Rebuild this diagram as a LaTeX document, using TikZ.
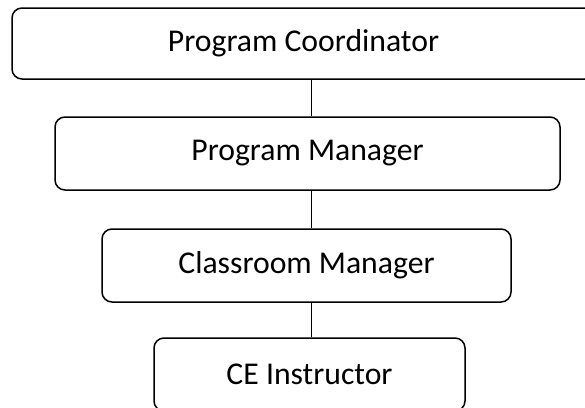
\documentclass[tikz,border=0pt]{standalone}
\usepackage{fontspec}
\setmainfont{Carlito}
\begin{document}
\begin{tikzpicture}[x=1pt,y=-1pt,
  boxn/.style={draw=black, line width=1.5pt, rounded corners=10pt, inner sep=0pt,
    font=\fontsize{31.7}{38}\selectfont, text=black},
  link/.style={draw=black, line width=1.5pt}]
\useasboundingbox[fill=white] (0,0) rectangle (585,407);
\node[boxn, minimum width=583pt, minimum height=71pt] (b1) at (303.5,43.5) {Program Coordinator};
\node[boxn, minimum width=505pt, minimum height=73pt] (b2) at (307.5,153.5) {Program Manager};
\node[boxn, minimum width=409pt, minimum height=73pt] (b3) at (306.5,265.5) {Classroom Manager};
\node[boxn, minimum width=311pt, minimum height=73pt] (b4) at (309.5,374.5) {CE Instructor};
\coordinate (xl) at (311.5,0);
\draw[link] (b1.south -| xl) -- (b2.north -| xl);
\draw[link] (b2.south -| xl) -- (b3.north -| xl);
\draw[link] (b3.south -| xl) -- (b4.north -| xl);
\end{tikzpicture}
\end{document}
